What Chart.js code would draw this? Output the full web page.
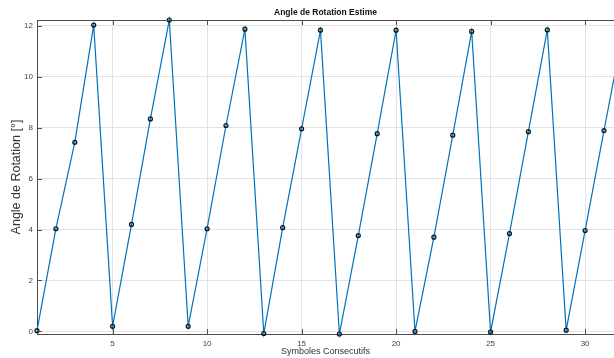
<!DOCTYPE html>
<html>
<head>
<meta charset="utf-8">
<script src="https://cdn.jsdelivr.net/npm/chart.js@4/dist/chart.umd.min.js"></script>
<style>
  html, body { margin: 0; padding: 0; background: #fff; }
  #wrap { width: 614px; height: 358px; }
</style>
</head>
<body>
<div id="wrap"><canvas id="angle_chart" width="614" height="358"></canvas></div>
<script>
// Données
var symboles = [1, 2, 3, 4, 5, 6, 7, 8, 9, 10, 11, 12, 13, 14, 15, 16,
                17, 18, 19, 20, 21, 22, 23, 24, 25, 26, 27, 28, 29, 30, 31, 32];
var angles = [0.03, 4.03, 7.42, 12.02, 0.2, 4.2, 8.34, 12.22, 0.2, 4.03, 8.08, 11.86, -0.08, 4.07, 7.95, 11.82,
              -0.1, 3.76, 7.76, 11.82, 0.0, 3.7, 7.7, 11.77, -0.02, 3.84, 7.84, 11.83, 0.05, 3.96, 7.88, 11.75];
var xTicks = [5, 10, 15, 20, 25, 30];
var yTicks = [0, 2, 4, 6, 8, 10, 12];

var axisColor = "#4d4d4d";
var gridColor = "#e2e2e2";
var tickFont = { family: "'Liberation Sans', Arial, sans-serif", size: 8 };

var points = symboles.map(function (s, i) { return { x: s, y: angles[i] }; });

// cadre + graduations vers l'intérieur (style MATLAB)
var boxPlugin = {
  id: "box",
  afterDatasetsDraw: function (chart) {
    var ctx = chart.ctx, a = chart.chartArea;
    var xs = chart.scales.x, ys = chart.scales.y;
    ctx.save();
    ctx.strokeStyle = axisColor;
    ctx.lineWidth = 1;
    ctx.beginPath();
    ctx.moveTo(a.left, a.top + 0.5); ctx.lineTo(a.right, a.top + 0.5);
    xTicks.forEach(function (t) {
      var px = Math.round(xs.getPixelForValue(t)) + 0.5;
      ctx.moveTo(px, a.bottom); ctx.lineTo(px, a.bottom - 5);
      ctx.moveTo(px, a.top); ctx.lineTo(px, a.top + 5);
    });
    yTicks.forEach(function (t) {
      var py = Math.round(ys.getPixelForValue(t)) + 0.5;
      ctx.moveTo(a.left, py); ctx.lineTo(a.left + 5, py);
    });
    ctx.stroke();
    ctx.restore();
  }
};

var ctx = document.getElementById("angle_chart");
var angle_chart = new Chart(ctx, {
  type: "line",
  data: {
    datasets: [{
      data: points,
      borderColor: "#0072BD",
      borderWidth: 1.2,
      pointRadius: 2,
      pointBorderWidth: 1.2,
      pointBorderColor: "#111",
      pointBackgroundColor: "rgba(0,114,189,0.3)",
      tension: 0,
      clip: { left: 4, top: 4, right: 0, bottom: 4 }
    }]
  },
  options: {
    animation: false,
    responsive: false,
    maintainAspectRatio: false,
    layout: { padding: 0, autoPadding: false },
    plugins: {
      legend: { display: false },
      tooltip: { enabled: false },
      title: {
        display: true,
        fullSize: false,
        text: "Angle de Rotation Estime",
        color: "#111",
        font: { family: "'Liberation Sans', Arial, sans-serif", size: 8.5, weight: "bold" },
        padding: { top: 7.5, bottom: 2.3 }
      }
    },
    scales: {
      x: {
        type: "linear",
        min: 1,
        max: 31.53,
        afterBuildTicks: function (s) { s.ticks = xTicks.map(function (v) { return { value: v }; }); },
        afterFit: function (s) { s.height = 24; s.paddingLeft = 0; s.paddingRight = 0; },
        grid: { color: gridColor, drawTicks: false },
        border: { color: axisColor, width: 1 },
        ticks: { color: "#444", font: tickFont, padding: 5, maxRotation: 0 },
        title: {
          display: true,
          text: "Symboles Consecutifs",
          color: "#333",
          font: { family: "'Liberation Sans', Arial, sans-serif", size: 9 },
          padding: { top: 0, bottom: 1 }
        }
      },
      y: {
        type: "linear",
        min: -0.1,
        max: 12.22,
        afterBuildTicks: function (s) { s.ticks = yTicks.map(function (v) { return { value: v }; }); },
        afterFit: function (s) { s.width = 37; s.paddingTop = 0; s.paddingBottom = 0; },
        grid: { color: gridColor, drawTicks: false },
        border: { color: axisColor, width: 1 },
        ticks: { color: "#444", font: tickFont, padding: 4 },
        title: {
          display: true,
          text: "Angle de Rotation [°]",
          color: "#333",
          font: { family: "'Liberation Sans', Arial, sans-serif", size: 12.5 },
          padding: { top: 9, bottom: 0 }
        }
      }
    }
  },
  plugins: [boxPlugin]
});
</script>
</body>
</html>
